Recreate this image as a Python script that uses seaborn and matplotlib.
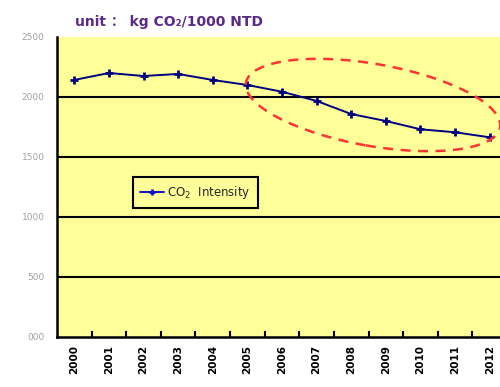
import matplotlib
matplotlib.use('Agg')
import matplotlib.pyplot as plt
from matplotlib.patches import Ellipse
from matplotlib.transforms import IdentityTransform
import pandas as pd
import seaborn as sns

YEARS = ['2000', '2001', '2002', '2003', '2004', '2005', '2006',
         '2007', '2008', '2009', '2010', '2011', '2012']
INTENSITY = [2142, 2200, 2175, 2192, 2142, 2100, 2044,
             1967, 1858, 1800, 1731, 1706, 1664]
Y_TICKS = [0, 500, 1000, 1500, 2000, 2500]
Y_TICK_LABELS = ['000', '500', '1000', '1500', '2000', '2500']

LINE_COLOR = '#000080'
PLOT_BG = '#FFFF99'


def main():
    df = pd.DataFrame({'year': YEARS, 'intensity': INTENSITY})
    sns.set_theme(style='white')
    plt.rcParams['font.family'] = ['DejaVu Sans', 'Noto Sans CJK SC']

    fig = plt.figure(figsize=(5, 3.87), dpi=100)
    ax = fig.add_axes([57 / 500, 50 / 387, 450 / 500, 300 / 387])
    ax.set_facecolor(PLOT_BG)

    sns.lineplot(data=df, x='year', y='intensity', sort=False, ax=ax,
                 color=LINE_COLOR, linewidth=1.4, marker='+',
                 markersize=6, markeredgewidth=2,
                 markeredgecolor=LINE_COLOR,
                 label='CO$_2$  Intensity')

    ax.set_xlim(-0.5, len(YEARS) - 0.5)
    ax.set_ylim(0, 2500)
    ax.set_xlabel('')
    ax.set_ylabel('')

    # horizontal grid at each 500, none on the top edge
    for v in Y_TICKS[1:-1]:
        ax.axhline(v, color='black', linewidth=1.5, zorder=1)

    ax.set_yticks(Y_TICKS)
    ax.set_yticklabels(Y_TICK_LABELS, fontsize=6.5, color='#a0a0a0')
    ax.tick_params(axis='y', length=0, pad=9)

    ax.set_xticks(range(len(YEARS)))
    ax.set_xticklabels(YEARS, rotation=90, fontsize=7.5,
                       fontweight='bold', color='black')
    ax.set_xticks([i + 0.5 for i in range(len(YEARS) - 1)], minor=True)
    ax.tick_params(axis='x', which='major', length=0, pad=6)
    ax.tick_params(axis='x', which='minor', direction='in', length=4,
                   width=1.5, color='black', bottom=True)

    for side in ['top', 'right']:
        ax.spines[side].set_visible(False)
    for side in ['left', 'bottom']:
        ax.spines[side].set_color('black')
        ax.spines[side].set_linewidth(1.8)

    leg = ax.legend(loc='lower left', bbox_to_anchor=(0.169, 0.43),
                    borderaxespad=0, fontsize=8.5, frameon=True,
                    fancybox=False, handlelength=2.0, borderpad=0.6,
                    handletextpad=0.3)
    leg.get_frame().set_edgecolor('black')
    leg.get_frame().set_linewidth(1.5)
    leg.get_frame().set_facecolor(PLOT_BG)
    leg.get_frame().set_alpha(1)
    for line in leg.get_lines():
        line.set_color('#1010c0')
        line.set_markeredgecolor('#1010c0')
        line.set_markersize(5)

    # red dashed highlight ellipse, in pixel units
    ell = Ellipse((373, 387 - 105), width=258, height=82, angle=-10,
                  transform=IdentityTransform(), fill=False,
                  edgecolor='#ff3333', linestyle=(0, (4, 3)),
                  linewidth=1.8, zorder=5)
    fig.patches.append(ell)

    fig.text(75 / 500, 1 - 22 / 387, 'unit ： kg CO₂/1000 NTD',
             fontsize=10, fontweight='bold', color='#5b2a86',
             family=['DejaVu Sans', 'Noto Sans CJK SC'], va='center')

    fig.savefig('out.png', dpi=100)


if __name__ == '__main__':
    main()
